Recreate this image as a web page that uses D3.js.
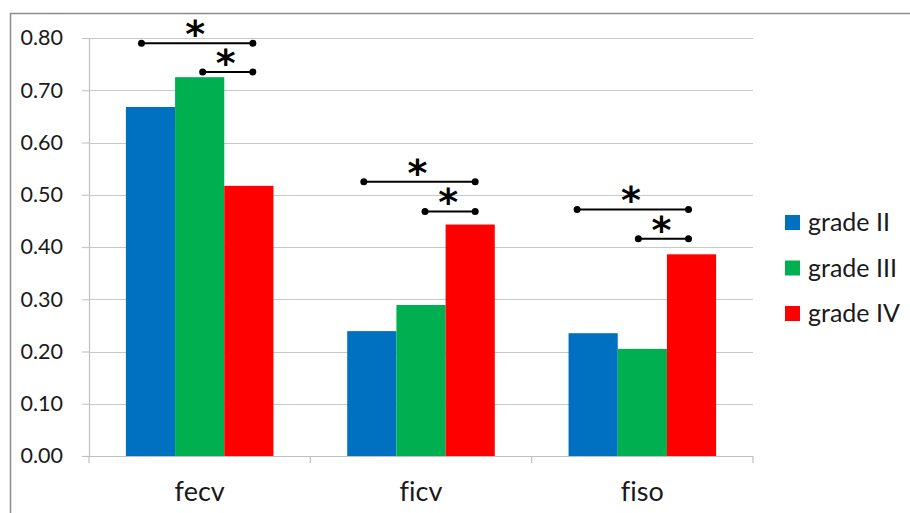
<!DOCTYPE html>
<html>
<head>
<meta charset="utf-8">
<script src="https://cdn.jsdelivr.net/npm/d3@7"></script>
<style>
  html, body { margin: 0; padding: 0; background: #fff; }
  svg { display: block; font-family: Lato, "Open Sans", sans-serif; font-variant-ligatures: none; font-feature-settings: "liga" 0; }
</style>
</head>
<body>
<svg id="chart" width="910" height="513"></svg>
<script>
// Categories and series
const categories = ["fecv", "ficv", "fiso"];
const seriesNames = ["grade II", "grade III", "grade IV"];
const seriesColors = ["#0070C0", "#00B050", "#FF0000"];

// Mean values per series, one entry per category
const gradeII  = [0.668, 0.239, 0.235];
const gradeIII = [0.725, 0.289, 0.205];
const gradeIV  = [0.517, 0.443, 0.386];

// Y-axis ticks
const yTicks = [0, 0.1, 0.2, 0.3, 0.4, 0.5, 0.6, 0.7, 0.8];

// Significance brackets: category, series index pair, bracket level (value units)
const sigCategory = ["fecv", "fecv", "ficv", "ficv", "fiso", "fiso"];
const sigFrom     = [0, 1, 0, 1, 0, 1];
const sigTo       = [2, 2, 2, 2, 2, 2];
const sigLevel    = [0.790, 0.735, 0.525, 0.468, 0.472, 0.416];

const seriesValues = [gradeII, gradeIII, gradeIV];

const svg = d3.select("#chart");

// Outer frame
svg.append("rect")
  .attr("x", 10.5).attr("y", 13.5)
  .attr("width", 920).attr("height", 520)
  .attr("fill", "#fff").attr("stroke", "#8c8c8c").attr("stroke-width", 1.5);

const plot = { left: 89, right: 753, top: 38, bottom: 456 };

const y = d3.scaleLinear().domain([0, 0.8]).range([plot.bottom, plot.top]);
const x0 = d3.scaleBand().domain(categories).range([plot.left, plot.right]).padding(0);
const x1 = d3.scaleBand().domain(d3.range(seriesNames.length))
  .range([0, x0.bandwidth()]).paddingInner(0).paddingOuter(0.75);

// Y axis with labels
const yAxis = d3.axisLeft(y).tickValues(yTicks).tickFormat(d3.format(".2f"))
  .tickSize(7).tickPadding(19);
const gy = svg.append("g").attr("transform", `translate(${plot.left},0)`).call(yAxis);
gy.select(".domain").attr("stroke", "#bfbfbf").attr("stroke-width", 1.2);
gy.selectAll(".tick line").attr("stroke", "#c8c8c8").attr("stroke-width", 1.2);
gy.selectAll(".tick text").attr("font-size", 21.5).attr("fill", "#1a1a1a")
  .attr("font-family", "Lato, sans-serif");

// Horizontal gridlines
svg.append("g").selectAll("line")
  .data(yTicks.filter(d => d > 0))
  .join("line")
  .attr("x1", plot.left).attr("x2", plot.right)
  .attr("y1", d => Math.round(y(d)) + 0.5).attr("y2", d => Math.round(y(d)) + 0.5)
  .attr("stroke", "#c8c8c8").attr("stroke-width", 1.2);

// Bars
const bars = svg.append("g");
categories.forEach((c, ci) => {
  seriesValues.forEach((vals, si) => {
    bars.append("rect")
      .attr("x", x0(c) + x1(si))
      .attr("y", y(vals[ci]))
      .attr("width", x1.bandwidth())
      .attr("height", y(0) - y(vals[ci]))
      .attr("fill", seriesColors[si]);
  });
});

// X axis
const xAxis = d3.axisBottom(x0).tickSize(0).tickPadding(26);
const gx = svg.append("g").attr("transform", `translate(0,${plot.bottom})`).call(xAxis);
gx.select(".domain").remove();
gx.selectAll(".tick text").attr("font-size", 27).attr("fill", "#1a1a1a")
  .attr("font-family", "Lato, sans-serif");
svg.append("line")
  .attr("x1", plot.left - 7).attr("x2", plot.right)
  .attr("y1", plot.bottom + 0.5).attr("y2", plot.bottom + 0.5)
  .attr("stroke", "#bfbfbf").attr("stroke-width", 1.2);
const boundaries = categories.map(c => x0(c)).concat([x0(categories[2]) + x0.bandwidth()]);
svg.append("g").selectAll("line").data(boundaries).join("line")
  .attr("x1", d => d).attr("x2", d => d)
  .attr("y1", plot.bottom).attr("y2", plot.bottom + 7)
  .attr("stroke", "#bfbfbf").attr("stroke-width", 1.2);

// Significance brackets
const barCenter = (c, si) => x0(c) + x1(si) + x1.bandwidth() / 2;
const nudge = { fecv: [-9, 4], ficv: [-8, 5], fiso: [-16, -3] };
const sig = svg.append("g");
sigCategory.forEach((c, i) => {
  const xa = barCenter(c, sigFrom[i]) + (sigFrom[i] === 0 ? nudge[c][0] : nudge[c][1] - 1);
  const xb = barCenter(c, sigTo[i]) + nudge[c][1];
  const yy = y(sigLevel[i]);
  sig.append("line").attr("x1", xa).attr("x2", xb).attr("y1", yy).attr("y2", yy)
    .attr("stroke", "#000").attr("stroke-width", 2);
  sig.append("circle").attr("cx", xa).attr("cy", yy).attr("r", 3.5).attr("fill", "#000");
  sig.append("circle").attr("cx", xb).attr("cy", yy).attr("r", 3.5).attr("fill", "#000");
  sig.append("text").attr("x", (xa + xb) / 2 - 2).attr("y", yy + 4)
    .attr("text-anchor", "middle").attr("font-size", 38).attr("font-weight", "bold")
    .attr("font-family", "DejaVu Sans, sans-serif").attr("fill", "#000")
    .text("*");
});

// Legend
const legend = svg.append("g");
seriesNames.forEach((name, i) => {
  const ly = 222 + i * 45.5;
  legend.append("rect").attr("x", 785).attr("y", ly - 7).attr("width", 15).attr("height", 15)
    .attr("fill", seriesColors[i]);
  legend.append("text").attr("x", 808).attr("y", ly + 9)
    .attr("font-size", 25).attr("fill", "#1a1a1a").attr("font-family", "Lato, sans-serif")
    .text(name);
});
</script>
</body>
</html>
